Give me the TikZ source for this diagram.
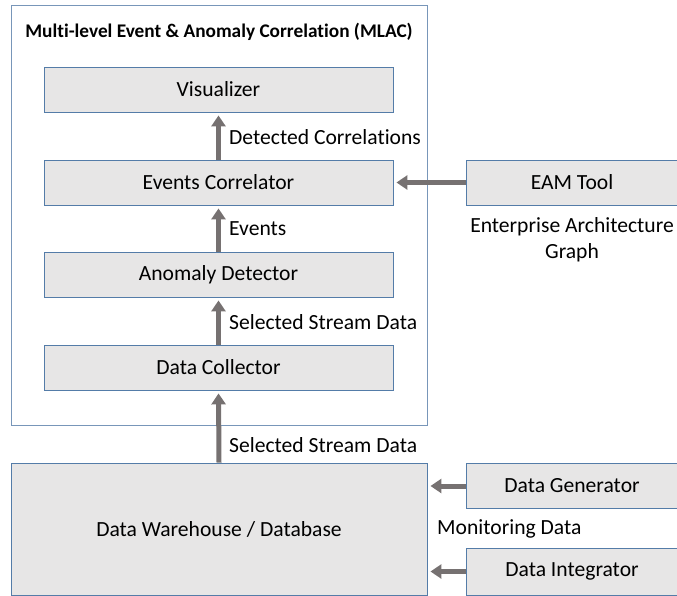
\documentclass[tikz,border=0pt]{standalone}
\usepackage{fontspec}
\setmainfont{Carlito}[Ligatures=NoCommon]
\usetikzlibrary{arrows.meta}
\definecolor{boxfill}{RGB}{231,230,230}
\definecolor{boxline}{RGB}{84,124,168}
\definecolor{outerline}{RGB}{120,150,185}
\definecolor{arrgray}{RGB}{118,113,113}
\tikzset{
  box/.style={draw=boxline, line width=0.9pt, fill=boxfill, minimum height=45pt, inner sep=0pt, font=\fontsize{21.6}{24}\selectfont},
  outerbox/.style={draw=outerline, line width=0.9pt, inner sep=0pt},
  lbl/.style={inner sep=0pt, font=\fontsize{21.6}{26}\selectfont},
  arr/.style={draw=arrgray, line width=5pt, -{Triangle[length=11pt,width=14pt]}, shorten >=3pt}
}
\begin{document}
\begin{tikzpicture}[x=1pt,y=-1pt]
\useasboundingbox (0,0) rectangle (677,596);
\node[outerbox, minimum width=416pt, minimum height=420pt] (mlac) at (219,215) {};
\node[lbl, font=\fontsize{19.3}{22}\selectfont\bfseries] (title) at (219,32) {Multi-level Event \& Anomaly Correlation (MLAC)};
\node[box, minimum width=349pt] (vis) at (218.5,89.5) {Visualizer};
\node[box, minimum width=349pt] (corr) at (218.5,182.5) {Events Correlator};
\node[box, minimum width=349pt] (anom) at (218.5,274.5) {Anomaly Detector};
\node[box, minimum width=349pt] (coll) at (218.5,367.5) {Data Collector};
\node[box, minimum width=416pt, minimum height=132pt] (dw) at (219,529) {Data Warehouse / Database};
\node[box, minimum width=212pt] (eam) at (572,182.5) {EAM Tool};
\node[box, minimum width=212pt] (dg) at (572,486) {Data Generator};
\node[box, minimum width=212pt, minimum height=47pt] (di) at (572,571.5) {Data Integrator};
\draw[arr] (corr.north) -- (vis.south);
\draw[arr] (anom.north) -- (corr.south);
\draw[arr] (coll.north) -- (anom.south);
\draw[arr] (dw.north) -- (coll.south);
\draw[arr] (eam.west) -- (corr.east);
\draw[arr] (dg.west) -- (dg.west -| dw.east);
\draw[arr] (di.west) -- (di.west -| dw.east);
\node[lbl, anchor=west] (l1) at (229,137) {Detected Correlations};
\node[lbl, anchor=west] (l2) at (229,229) {Events};
\node[lbl, anchor=west] (l3) at (229,322) {Selected Stream Data};
\node[lbl, anchor=west] (l4) at (229,445) {Selected Stream Data};
\node[lbl, anchor=west] (l5) at (437,529) {Monitoring Data};
\node[lbl, align=center] (l6) at (572,239.5) {Enterprise Architecture\\Graph};
\end{tikzpicture}
\end{document}
